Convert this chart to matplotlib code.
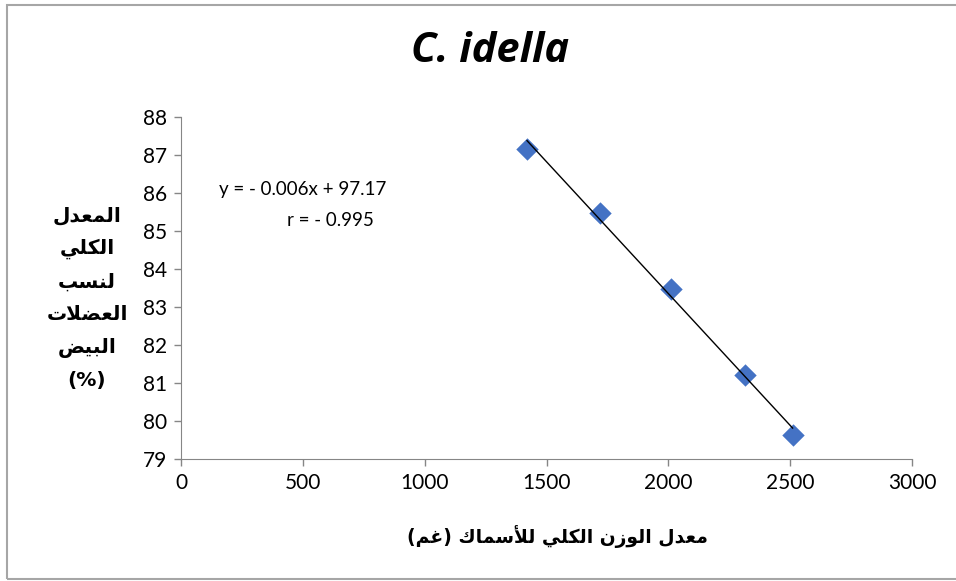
import numpy as np
import matplotlib
matplotlib.use("Agg")
import matplotlib.pyplot as plt
from matplotlib.patches import Rectangle

# data
weight = [1420, 1720, 2010, 2315, 2510]
white_muscle = [87.15, 85.48, 83.47, 81.22, 79.62]

title = "C. idella"
eq_text = "y = - 0.006x + 97.17"
r_text = "r = - 0.995"
x_label = "معدل الوزن الكلي للأسماك (غم)"
y_label_lines = ["المعدل", "الكلي", "لنسب", "العضلات", "البيض", "(%)"]
x_ticks = [0, 500, 1000, 1500, 2000, 2500, 3000]
y_ticks = [79, 80, 81, 82, 83, 84, 85, 86, 87, 88]


# minimal arabic shaping (matplotlib has no bidi / joining)
# forms: isolated, final, initial, medial (None = right-joining only)
FORMS = {
    "ا": (0xFE8D, 0xFE8E, None, None),
    "أ": (0xFE83, 0xFE84, None, None),
    "ب": (0xFE8F, 0xFE90, 0xFE91, 0xFE92),
    "ت": (0xFE95, 0xFE96, 0xFE97, 0xFE98),
    "د": (0xFEA9, 0xFEAA, None, None),
    "ز": (0xFEAF, 0xFEB0, None, None),
    "س": (0xFEB1, 0xFEB2, 0xFEB3, 0xFEB4),
    "ض": (0xFEBD, 0xFEBE, 0xFEBF, 0xFEC0),
    "ع": (0xFEC9, 0xFECA, 0xFECB, 0xFECC),
    "غ": (0xFECD, 0xFECE, 0xFECF, 0xFED0),
    "ك": (0xFED9, 0xFEDA, 0xFEDB, 0xFEDC),
    "ل": (0xFEDD, 0xFEDE, 0xFEDF, 0xFEE0),
    "م": (0xFEE1, 0xFEE2, 0xFEE3, 0xFEE4),
    "ن": (0xFEE5, 0xFEE6, 0xFEE7, 0xFEE8),
    "و": (0xFEED, 0xFEEE, None, None),
    "ي": (0xFEF1, 0xFEF2, 0xFEF3, 0xFEF4),
}
LAM_ALEF = {"ا": (0xFEFB, 0xFEFC), "أ": (0xFEF7, 0xFEF8)}


def dual(c):
    return c in FORMS and FORMS[c][2] is not None


def shape(text):
    chars = list(text)
    out = []
    i = 0
    while i < len(chars):
        c = chars[i]
        prev = chars[i - 1] if i > 0 else ""
        joins_prev = dual(prev)
        if c == "ل" and i + 1 < len(chars) and chars[i + 1] in LAM_ALEF:
            iso, fin = LAM_ALEF[chars[i + 1]]
            out.append(chr(fin if joins_prev else iso))
            i += 2
            continue
        if c not in FORMS:
            out.append(c)
            i += 1
            continue
        nxt = chars[i + 1] if i + 1 < len(chars) else ""
        joins_next = dual(c) and nxt in FORMS
        iso, fin, ini, med = FORMS[c]
        if joins_prev and joins_next:
            g = med
        elif joins_prev:
            g = fin
        elif joins_next:
            g = ini
        else:
            g = iso
        out.append(chr(g))
        i += 1
    vis = "".join(reversed(out))
    return vis.translate(str.maketrans("()", ")("))


plt.rcParams["font.family"] = ["Lato", "DejaVu Sans"]

fig = plt.figure(figsize=(9.56, 5.81), dpi=100)
ax = fig.add_axes([181 / 956, 1 - 459 / 581, (912 - 181) / 956, (459 - 117) / 581])

# chart area border
fig.patches.append(Rectangle((7 / 956, 2 / 581), 1.2, 1 - 7 / 581, transform=fig.transFigure,
                             fill=False, edgecolor="#a6a6a6", linewidth=1.5))

ax.scatter(weight, white_muscle, marker="D", s=130, color="#4472C4", zorder=3, linewidths=0)
k, b = np.polyfit(weight, white_muscle, 1)
xs = np.array([min(weight), max(weight)])
ax.plot(xs, k * xs + b, color="black", linewidth=1, zorder=4)

ax.set_xlim(0, 3000)
ax.set_ylim(79, 88)
ax.set_xticks(x_ticks)
ax.set_yticks(y_ticks)
ax.tick_params(labelsize=15, length=5, color="#868686", width=1, pad=5)
for s in ["top", "right"]:
    ax.spines[s].set_visible(False)
for s in ["left", "bottom"]:
    ax.spines[s].set_color("#868686")

fig.text(490 / 956, 1 - 52 / 581, title, ha="center", va="center", fontsize=30,
         fontweight="bold", style="italic", family=["Open Sans", "DejaVu Sans"])
fig.text(303 / 956, 1 - 189 / 581, eq_text, ha="center", va="center", fontsize=13.5)
fig.text(330 / 956, 1 - 221 / 581, r_text, ha="center", va="center", fontsize=13.5)

fig.text(557 / 956, 1 - 537 / 581, shape(x_label), ha="center", va="center", fontsize=13.5,
         fontweight="bold", family="DejaVu Sans")
ylab = "\n".join(shape(t) for t in y_label_lines)
fig.text(87 / 956, 1 - 298 / 581, ylab, ha="center", va="center", fontsize=14.5,
         fontweight="bold", family="DejaVu Sans", linespacing=1.9)

fig.savefig("out.png", dpi=100)
